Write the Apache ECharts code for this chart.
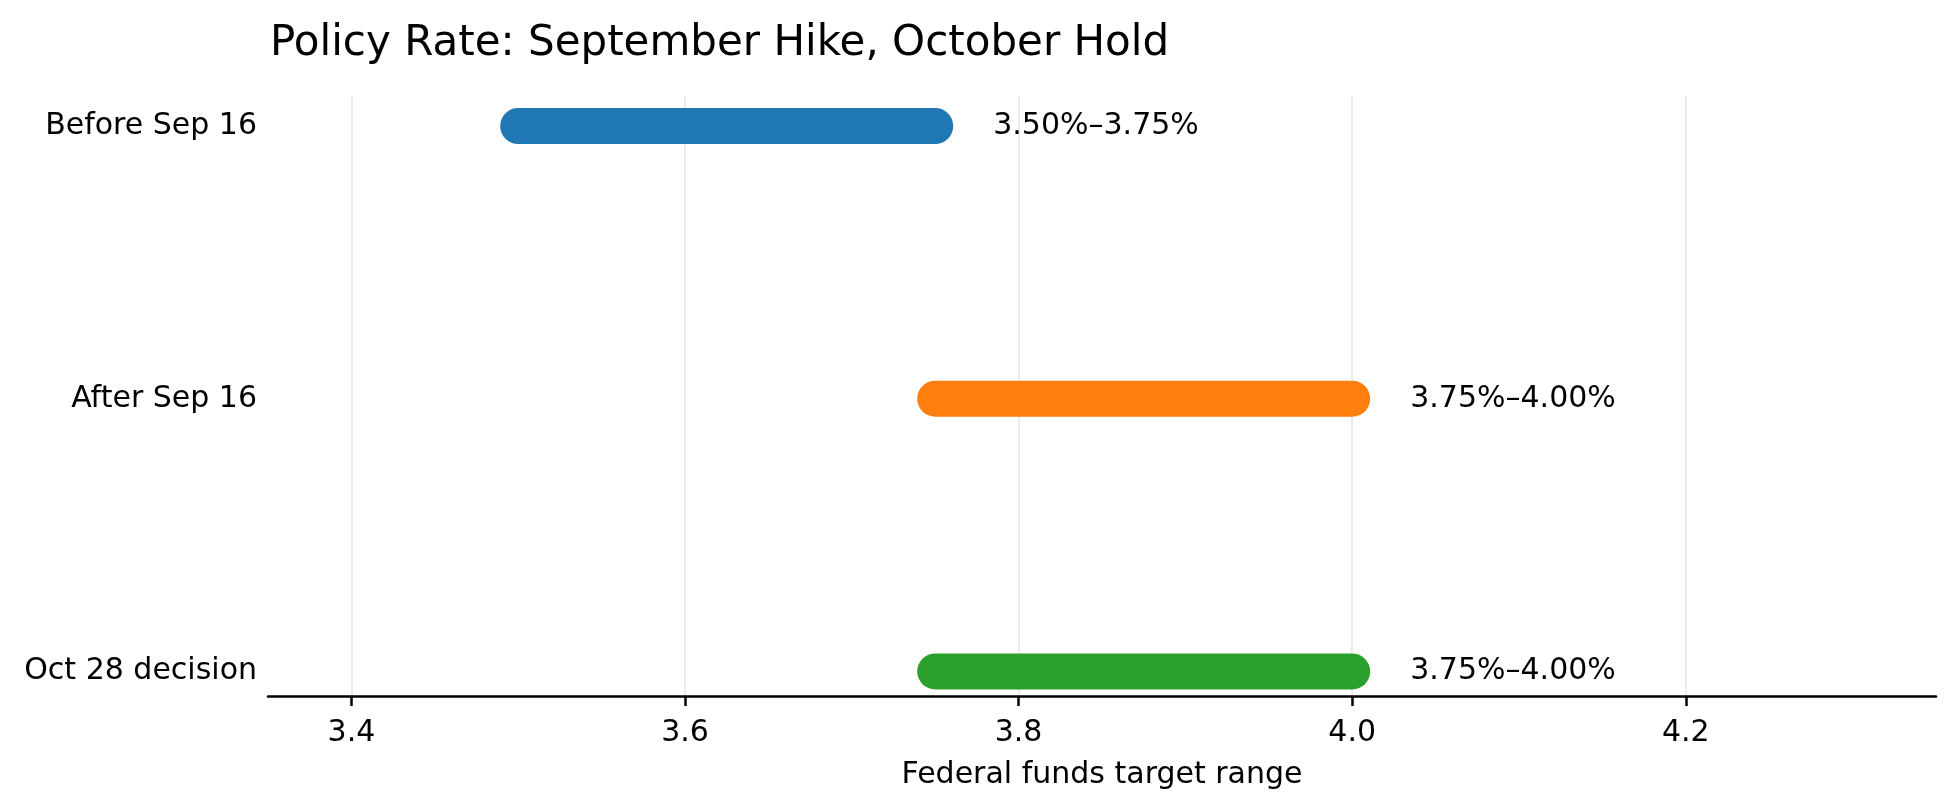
<!DOCTYPE html>
<html>
<head>
<meta charset="utf-8">
<title>Policy Rate: September Hike, October Hold</title>
<script src="https://cdn.jsdelivr.net/npm/echarts@6/dist/echarts.min.js"></script>
<style>
  html, body { margin: 0; padding: 0; background: #fff; }
  #chart { width: 1958px; height: 810px; }
</style>
</head>
<body>
<div id="chart"></div>
<script>
  // 数据
  var categories = ['Before Sep 16', 'After Sep 16', 'Oct 28 decision'];
  var rangeLow = [3.50, 3.75, 3.75];
  var rangeHigh = [3.75, 4.00, 4.00];
  var rangeLabels = ['3.50%\u20133.75%', '3.75%\u20134.00%', '3.75%\u20134.00%'];
  var xTicks = [3.4, 3.6, 3.8, 4.0, 4.2];
  var rowIndex = [0, 1, 2];

  var barColors = ['#1f77b4', '#ff7f0e', '#2ca02c'];
  var FONT = 'DejaVu Sans';

  var rows = rowIndex.map(function (i) { return [i, rangeLow[i], rangeHigh[i]]; });

  var chart = echarts.init(document.getElementById('chart'), null, { renderer: 'canvas' });

  chart.setOption({
    animation: false,
    backgroundColor: '#fff',
    title: {
      text: 'Policy Rate: September Hike, October Hold',
      left: 265,
      top: 18,
      textStyle: { color: '#000', fontSize: 42, fontWeight: 'normal', fontFamily: FONT }
    },
    grid: { left: 268, right: 22, top: 96, bottom: 114 },
    xAxis: {
      type: 'value',
      min: 3.35,
      max: 4.35,
      name: 'Federal funds target range',
      nameLocation: 'middle',
      nameGap: 64,
      nameTextStyle: { color: '#000', fontSize: 30, fontFamily: FONT },
      axisLine: { onZero: false, lineStyle: { color: '#000', width: 2.5 } },
      axisTick: { customValues: xTicks, length: 10, lineStyle: { color: '#000', width: 2.5 } },
      axisLabel: {
        customValues: xTicks,
        color: '#000', fontSize: 30, fontFamily: FONT, margin: 22,
        formatter: function (v) { return v.toFixed(1); }
      },
      splitLine: { show: true, lineStyle: { color: '#ebebeb', width: 2 } }
    },
    yAxis: {
      type: 'value',
      min: -0.11,
      max: 2.09,
      inverse: true,
      axisLine: { show: false },
      axisTick: { show: false },
      splitLine: { show: false },
      axisLabel: {
        customValues: rowIndex,
        color: '#000', fontSize: 30, fontFamily: FONT, margin: 11,
        formatter: function (v) { return categories[v] || ''; }
      }
    },
    series: [{
      type: 'custom',
      data: rows,
      encode: { x: [1, 2], y: 0 },
      renderItem: function (params, api) {
        var i = api.value(0);
        var p0 = api.coord([api.value(1), i]);
        var p1 = api.coord([api.value(2), i]);
        return {
          type: 'group',
          children: [
            {
              type: 'line',
              shape: { x1: p0[0], y1: p0[1], x2: p1[0], y2: p1[1] },
              style: { stroke: barColors[i], lineWidth: 36, lineCap: 'round' }
            },
            {
              type: 'text',
              x: p1[0] + 58,
              y: p1[1],
              style: {
                text: rangeLabels[i], fill: '#000',
                fontSize: 30, fontFamily: FONT,
                align: 'left', verticalAlign: 'middle'
              }
            }
          ]
        };
      }
    }]
  });
</script>
</body>
</html>
